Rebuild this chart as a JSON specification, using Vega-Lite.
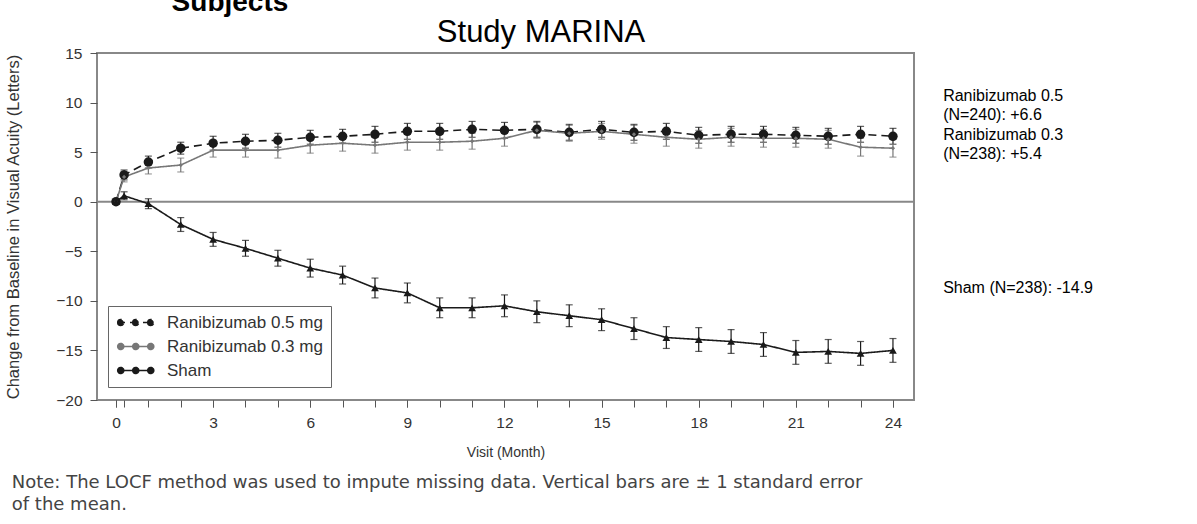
{
  "$schema": "https://vega.github.io/schema/vega-lite/v6.json",
  "width": 817,
  "height": 347,
  "autosize": {"type": "none"},
  "padding": {"left": 97, "top": 53, "right": 283, "bottom": 124},
  "background": "white",
  "config": {
    "view": {"stroke": "#888", "strokeWidth": 2},
    "font": "Liberation Sans",
    "axis": {"grid": false, "domain": false, "tickColor": "#555", "tickSize": 7, "labelColor": "#333", "labelFont": "Liberation Sans", "labelFontSize": 15.5, "labelOverlap": false, "titleColor": "#333", "titleFont": "Liberation Sans", "titleFontWeight": "normal", "titleFontSize": 14}
  },
  "resolve": {"axis": {"x": "independent"}},
  "datasets": {
    "visits": [
      {"group": "Ranibizumab 0.5 mg", "month": 0, "mean": 0, "se": 0},
      {"group": "Ranibizumab 0.5 mg", "month": 0.25, "mean": 2.7, "se": 0.5},
      {"group": "Ranibizumab 0.5 mg", "month": 1, "mean": 4.0, "se": 0.6},
      {"group": "Ranibizumab 0.5 mg", "month": 2, "mean": 5.4, "se": 0.6},
      {"group": "Ranibizumab 0.5 mg", "month": 3, "mean": 5.9, "se": 0.7},
      {"group": "Ranibizumab 0.5 mg", "month": 4, "mean": 6.1, "se": 0.7},
      {"group": "Ranibizumab 0.5 mg", "month": 5, "mean": 6.2, "se": 0.7},
      {"group": "Ranibizumab 0.5 mg", "month": 6, "mean": 6.5, "se": 0.7},
      {"group": "Ranibizumab 0.5 mg", "month": 7, "mean": 6.6, "se": 0.7},
      {"group": "Ranibizumab 0.5 mg", "month": 8, "mean": 6.8, "se": 0.8},
      {"group": "Ranibizumab 0.5 mg", "month": 9, "mean": 7.1, "se": 0.8},
      {"group": "Ranibizumab 0.5 mg", "month": 10, "mean": 7.1, "se": 0.8},
      {"group": "Ranibizumab 0.5 mg", "month": 11, "mean": 7.3, "se": 0.8},
      {"group": "Ranibizumab 0.5 mg", "month": 12, "mean": 7.2, "se": 0.8},
      {"group": "Ranibizumab 0.5 mg", "month": 13, "mean": 7.3, "se": 0.8},
      {"group": "Ranibizumab 0.5 mg", "month": 14, "mean": 7.0, "se": 0.8},
      {"group": "Ranibizumab 0.5 mg", "month": 15, "mean": 7.3, "se": 0.8},
      {"group": "Ranibizumab 0.5 mg", "month": 16, "mean": 7.0, "se": 0.8},
      {"group": "Ranibizumab 0.5 mg", "month": 17, "mean": 7.1, "se": 0.8},
      {"group": "Ranibizumab 0.5 mg", "month": 18, "mean": 6.7, "se": 0.8},
      {"group": "Ranibizumab 0.5 mg", "month": 19, "mean": 6.8, "se": 0.8},
      {"group": "Ranibizumab 0.5 mg", "month": 20, "mean": 6.8, "se": 0.8},
      {"group": "Ranibizumab 0.5 mg", "month": 21, "mean": 6.7, "se": 0.8},
      {"group": "Ranibizumab 0.5 mg", "month": 22, "mean": 6.6, "se": 0.8},
      {"group": "Ranibizumab 0.5 mg", "month": 23, "mean": 6.8, "se": 0.8},
      {"group": "Ranibizumab 0.5 mg", "month": 24, "mean": 6.6, "se": 0.8},
      {"group": "Ranibizumab 0.3 mg", "month": 0, "mean": 0, "se": 0},
      {"group": "Ranibizumab 0.3 mg", "month": 0.25, "mean": 2.5, "se": 0.5},
      {"group": "Ranibizumab 0.3 mg", "month": 1, "mean": 3.4, "se": 0.6},
      {"group": "Ranibizumab 0.3 mg", "month": 2, "mean": 3.7, "se": 0.7},
      {"group": "Ranibizumab 0.3 mg", "month": 3, "mean": 5.2, "se": 0.7},
      {"group": "Ranibizumab 0.3 mg", "month": 4, "mean": 5.2, "se": 0.7},
      {"group": "Ranibizumab 0.3 mg", "month": 5, "mean": 5.2, "se": 0.8},
      {"group": "Ranibizumab 0.3 mg", "month": 6, "mean": 5.7, "se": 0.8},
      {"group": "Ranibizumab 0.3 mg", "month": 7, "mean": 5.9, "se": 0.8},
      {"group": "Ranibizumab 0.3 mg", "month": 8, "mean": 5.7, "se": 0.8},
      {"group": "Ranibizumab 0.3 mg", "month": 9, "mean": 6.0, "se": 0.8},
      {"group": "Ranibizumab 0.3 mg", "month": 10, "mean": 6.0, "se": 0.8},
      {"group": "Ranibizumab 0.3 mg", "month": 11, "mean": 6.1, "se": 0.8},
      {"group": "Ranibizumab 0.3 mg", "month": 12, "mean": 6.4, "se": 0.8},
      {"group": "Ranibizumab 0.3 mg", "month": 13, "mean": 7.2, "se": 0.8},
      {"group": "Ranibizumab 0.3 mg", "month": 14, "mean": 6.9, "se": 0.8},
      {"group": "Ranibizumab 0.3 mg", "month": 15, "mean": 7.1, "se": 0.8},
      {"group": "Ranibizumab 0.3 mg", "month": 16, "mean": 6.8, "se": 0.9},
      {"group": "Ranibizumab 0.3 mg", "month": 17, "mean": 6.5, "se": 0.9},
      {"group": "Ranibizumab 0.3 mg", "month": 18, "mean": 6.3, "se": 0.9},
      {"group": "Ranibizumab 0.3 mg", "month": 19, "mean": 6.5, "se": 0.9},
      {"group": "Ranibizumab 0.3 mg", "month": 20, "mean": 6.4, "se": 0.9},
      {"group": "Ranibizumab 0.3 mg", "month": 21, "mean": 6.4, "se": 0.9},
      {"group": "Ranibizumab 0.3 mg", "month": 22, "mean": 6.3, "se": 0.9},
      {"group": "Ranibizumab 0.3 mg", "month": 23, "mean": 5.5, "se": 0.9},
      {"group": "Ranibizumab 0.3 mg", "month": 24, "mean": 5.4, "se": 0.9},
      {"group": "Sham", "month": 0, "mean": 0, "se": 0},
      {"group": "Sham", "month": 0.25, "mean": 0.6, "se": 0.4},
      {"group": "Sham", "month": 1, "mean": -0.2, "se": 0.5},
      {"group": "Sham", "month": 2, "mean": -2.3, "se": 0.7},
      {"group": "Sham", "month": 3, "mean": -3.8, "se": 0.7},
      {"group": "Sham", "month": 4, "mean": -4.7, "se": 0.8},
      {"group": "Sham", "month": 5, "mean": -5.7, "se": 0.8},
      {"group": "Sham", "month": 6, "mean": -6.7, "se": 0.9},
      {"group": "Sham", "month": 7, "mean": -7.4, "se": 0.9},
      {"group": "Sham", "month": 8, "mean": -8.7, "se": 1.0},
      {"group": "Sham", "month": 9, "mean": -9.2, "se": 1.0},
      {"group": "Sham", "month": 10, "mean": -10.7, "se": 1.0},
      {"group": "Sham", "month": 11, "mean": -10.7, "se": 1.0},
      {"group": "Sham", "month": 12, "mean": -10.5, "se": 1.1},
      {"group": "Sham", "month": 13, "mean": -11.1, "se": 1.1},
      {"group": "Sham", "month": 14, "mean": -11.5, "se": 1.1},
      {"group": "Sham", "month": 15, "mean": -11.9, "se": 1.1},
      {"group": "Sham", "month": 16, "mean": -12.8, "se": 1.1},
      {"group": "Sham", "month": 17, "mean": -13.7, "se": 1.1},
      {"group": "Sham", "month": 18, "mean": -13.9, "se": 1.2},
      {"group": "Sham", "month": 19, "mean": -14.1, "se": 1.2},
      {"group": "Sham", "month": 20, "mean": -14.4, "se": 1.2},
      {"group": "Sham", "month": 21, "mean": -15.2, "se": 1.2},
      {"group": "Sham", "month": 22, "mean": -15.1, "se": 1.2},
      {"group": "Sham", "month": 23, "mean": -15.3, "se": 1.2},
      {"group": "Sham", "month": 24, "mean": -15.0, "se": 1.2}
    ]
  },
  "layer": [
    {
      "data": {"values": [{}]},
      "mark": {"type": "rule", "color": "#888", "strokeWidth": 2},
      "encoding": {"y": {"datum": 0, "type": "quantitative", "scale": {"domain": [-20, 15], "nice": false}}}
    },
    {
      "data": {"name": "visits"},
      "mark": {"type": "errorbar", "ticks": {"size": 7}, "thickness": 1.2},
      "encoding": {
        "x": {"field": "month", "type": "quantitative", "scale": {"domain": [-0.587, 24.65], "nice": false, "zero": false},
          "axis": {"orient": "bottom", "values": [0,3,6,9,12,15,18,21,24], "labelOverlap": false, "title": "Visit (Month)", "titlePadding": 15, "labelPadding": 8}},
        "y": {"field": "mean", "type": "quantitative", "scale": {"domain": [-20, 15], "nice": false},
          "axis": {"values": [-20,-15,-10,-5,0,5,10,15], "labelOverlap": false, "title": "Change from Baseline in Visual Acuity (Letters)", "titleFontSize": 16.5, "titlePadding": 34, "labelPadding": 8}},
        "yError": {"field": "se"},
        "color": {"field": "group", "type": "nominal", "scale": {"domain": ["Ranibizumab 0.5 mg", "Ranibizumab 0.3 mg", "Sham"], "range": ["#1a1a1a", "#777777", "#1a1a1a"]},
          "legend": {"title": null, "orient": "none", "legendX": 11, "legendY": 253, "strokeColor": "#666", "fillColor": "white", "padding": 8, "labelFontSize": 17, "labelLimit": 300, "labelFont": "Liberation Sans", "labelColor": "#333", "labelOffset": 34, "symbolSize": 225, "symbolStrokeWidth": 1.6, "symbolOpacity": 1, "rowPadding": 6,
            "symbolType": "M-1,0H4M-0.9,0a0.4,0.4 0 1,0 0.8,0a0.4,0.4 0 1,0 -0.8,0M1.1,0a0.4,0.4 0 1,0 0.8,0a0.4,0.4 0 1,0 -0.8,0M3.1,0a0.4,0.4 0 1,0 0.8,0a0.4,0.4 0 1,0 -0.8,0"}}
      }
    },
    {
      "data": {"name": "visits"},
      "mark": {"type": "line", "strokeWidth": 1.6},
      "encoding": {
        "x": {"field": "month", "type": "quantitative",
          "axis": {"orient": "bottom", "values": [0,0.25,1,2,3,4,5,6,7,8,9,10,11,12,13,14,15,16,17,18,19,20,21,22,23,24], "labels": false, "title": null}},
        "y": {"field": "mean", "type": "quantitative"},
        "color": {"field": "group", "type": "nominal"},
        "strokeDash": {"field": "group", "type": "nominal", "scale": {"domain": ["Ranibizumab 0.5 mg", "Ranibizumab 0.3 mg", "Sham"], "range": [[8, 5], [1, 0], [1, 0]]}}
      }
    },
    {
      "data": {"name": "visits"},
      "transform": [{"filter": "datum.group == 'Ranibizumab 0.5 mg'"}],
      "mark": {"type": "point", "filled": true, "opacity": 1, "shape": "circle", "size": 90, "color": "#1a1a1a"},
      "encoding": {
        "x": {"field": "month", "type": "quantitative", "axis": null},
        "y": {"field": "mean", "type": "quantitative"}
      }
    },
    {
      "data": {"name": "visits"},
      "transform": [{"filter": "datum.group == 'Ranibizumab 0.3 mg'"}],
      "mark": {"type": "point", "filled": true, "opacity": 1, "shape": "diamond", "size": 18, "color": "#777777"},
      "encoding": {
        "x": {"field": "month", "type": "quantitative", "axis": null},
        "y": {"field": "mean", "type": "quantitative"}
      }
    },
    {
      "data": {"name": "visits"},
      "transform": [{"filter": "datum.group == 'Sham'"}],
      "mark": {"type": "point", "filled": true, "opacity": 1, "shape": "triangle-up", "size": 60, "color": "#1a1a1a"},
      "encoding": {
        "x": {"field": "month", "type": "quantitative", "axis": null},
        "y": {"field": "mean", "type": "quantitative"}
      }
    },
    {
      "data": {"values": [{}]},
      "mark": {"type": "text", "text": "Subjects", "fontSize": 28, "fontWeight": "bold", "font": "Liberation Sans", "color": "#000", "align": "center", "baseline": "alphabetic"},
      "encoding": {"x": {"datum": 3.52, "type": "quantitative", "axis": null}, "y": {"datum": 19.2, "type": "quantitative"}}
    },
    {
      "data": {"values": [{}]},
      "mark": {"type": "text", "text": "Study MARINA", "fontSize": 31, "font": "Liberation Sans", "color": "#000", "align": "center", "baseline": "alphabetic"},
      "encoding": {"x": {"datum": 13.13, "type": "quantitative", "axis": null}, "y": {"datum": 16.1, "type": "quantitative"}}
    },
    {
      "data": {"values": [{}]},
      "mark": {"type": "text", "text": ["Ranibizumab 0.5", "(N=240): +6.6", "Ranibizumab 0.3", "(N=238): +5.4"], "fontSize": 16, "font": "Liberation Sans", "color": "#000", "align": "left", "baseline": "top", "lineHeight": 19.5},
      "encoding": {"x": {"datum": 25.55, "type": "quantitative", "axis": null}, "y": {"datum": 11.5, "type": "quantitative"}}
    },
    {
      "data": {"values": [{}]},
      "mark": {"type": "text", "text": "Sham (N=238): -14.9", "fontSize": 16, "font": "Liberation Sans", "color": "#000", "align": "left", "baseline": "middle"},
      "encoding": {"x": {"datum": 25.55, "type": "quantitative", "axis": null}, "y": {"datum": -8.7, "type": "quantitative"}}
    },
    {
      "data": {"values": [{}]},
      "mark": {"type": "text", "text": ["Note:  The LOCF method was used to impute missing data.  Vertical bars are \u00b1 1 standard error", "of the mean."], "fontSize": 18, "font": "DejaVu Sans", "color": "#444", "align": "left", "baseline": "top", "lineHeight": 22},
      "encoding": {"x": {"datum": -3.22, "type": "quantitative", "axis": null}, "y": {"datum": -27.5, "type": "quantitative"}}
    }
  ]
}
